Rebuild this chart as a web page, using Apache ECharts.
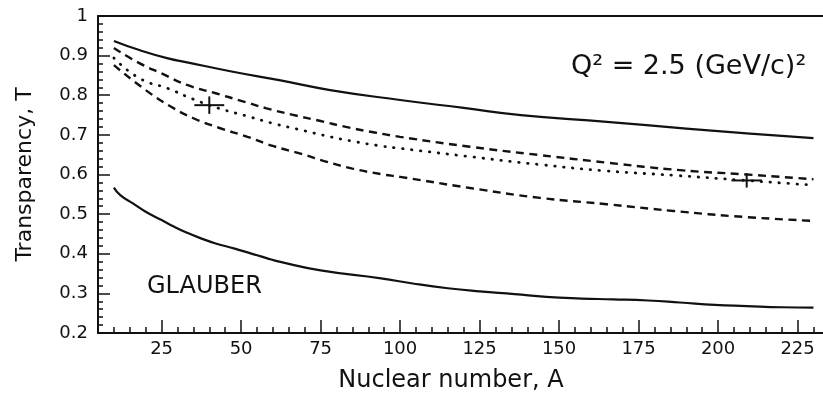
<!DOCTYPE html>
<html>
<head>
<meta charset="utf-8">
<title>Nuclear transparency vs A</title>
<script src="https://cdn.jsdelivr.net/npm/echarts@6/dist/echarts.min.js"></script>
<style>
  html, body { margin: 0; padding: 0; background: #fff; }
  #chart { width: 823px; height: 396px; }
</style>
</head>
<body>
<div id="chart"></div>
<script>
// Transparency T versus nuclear number A at Q^2 = 2.5 (GeV/c)^2

// Upper solid curve
const topSolidA = [10, 18, 27, 33, 47, 62, 78, 100, 120, 138, 165, 190, 210, 230];
const topSolidT = [0.937, 0.914, 0.893, 0.883, 0.860, 0.838, 0.813, 0.788, 0.768, 0.750, 0.733, 0.716, 0.703, 0.692];

// Upper dashed curve
const upperDashA = [10, 18, 25, 33, 42, 50, 58, 66, 75, 83, 92, 100, 122, 144, 165, 188, 209, 230];
const upperDashT = [0.919, 0.881, 0.855, 0.826, 0.805, 0.786, 0.767, 0.751, 0.735, 0.720, 0.706, 0.695, 0.670, 0.649, 0.630, 0.611, 0.600, 0.588];

// Dotted curve
const dottedA = [10, 18, 27, 35, 43, 52, 60, 69, 77, 85, 94, 100, 122, 144, 165, 186, 207, 230];
const dottedT = [0.894, 0.843, 0.817, 0.790, 0.767, 0.747, 0.729, 0.712, 0.697, 0.684, 0.672, 0.666, 0.645, 0.625, 0.609, 0.598, 0.586, 0.573];

// Lower dashed curve
const lowerDashA = [10, 20, 28, 35, 43, 52, 60, 69, 77, 85, 94, 100, 122, 144, 165, 186, 208, 230];
const lowerDashT = [0.876, 0.813, 0.771, 0.742, 0.718, 0.695, 0.672, 0.652, 0.632, 0.615, 0.601, 0.594, 0.566, 0.541, 0.525, 0.508, 0.493, 0.483];

// Glauber calculation
const glauberA = [10, 12, 16, 20, 25, 29, 33, 37, 42, 48, 53, 58, 62, 75, 94, 104, 115, 125, 136, 146, 157, 167, 178, 188, 199, 209, 220, 230];
const glauberT = [0.567, 0.548, 0.527, 0.506, 0.485, 0.468, 0.453, 0.440, 0.426, 0.413, 0.401, 0.389, 0.380, 0.358, 0.338, 0.325, 0.313, 0.305, 0.298, 0.291, 0.287, 0.285, 0.282, 0.277, 0.271, 0.268, 0.265, 0.264];

// Measured points with error bars
const pointA = [40, 209];
const pointT = [0.775, 0.585];
const pointErrA = [4.7, 4.8];
const pointErrT = [0.022, 0.018];

// Axis ticks and labels
const xLabelTicks = [25, 50, 75, 100, 125, 150, 175, 200, 225];
const xMinorTicks = [10, 15, 20, 25, 30, 35, 40, 45, 50, 55, 60, 65, 70, 75, 80, 85, 90, 95, 100,
  105, 110, 115, 120, 125, 130, 135, 140, 145, 150, 155, 160, 165, 170, 175, 180, 185, 190, 195, 200,
  205, 210, 215, 220, 225, 230];
const yMinorTicks = [0.22, 0.24, 0.26, 0.28, 0.32, 0.34, 0.36, 0.38, 0.42, 0.44, 0.46, 0.48,
  0.52, 0.54, 0.56, 0.58, 0.62, 0.64, 0.66, 0.68, 0.72, 0.74, 0.76, 0.78,
  0.82, 0.84, 0.86, 0.88, 0.92, 0.94, 0.96, 0.98];
const yMin = 0.2, yMax = 1, yStep = 0.1;
const xMin = 5, xMax = 233;

const INK = '#111';
const FONT = 'DejaVu Sans';

function pairs(xs, ys) { return xs.map((x, i) => [x, ys[i]]); }

function curve(name, xs, ys, lineType, width, cap) {
  return {
    name, type: 'line', data: pairs(xs, ys),
    showSymbol: false, symbol: 'none',
    smooth: 0.5,
    lineStyle: { color: INK, width: width, type: lineType, cap: cap || 'butt' },
    z: 3, silent: true
  };
}

const chart = echarts.init(document.getElementById('chart'), null, { renderer: 'canvas' });

chart.setOption({
  animation: false,
  backgroundColor: '#fff',
  grid: { left: 98, right: 0, top: 16, bottom: 63, containLabel: false, outerBoundsMode: 'none' },
  xAxis: [
    {
      type: 'value', min: xMin, max: xMax, position: 'bottom',
      axisLine: { show: true, lineStyle: { color: INK, width: 2 } },
      axisTick: { show: true, inside: true, length: 6, customValues: xMinorTicks, lineStyle: { color: INK, width: 1.5 } },
      axisLabel: { customValues: xLabelTicks, fontSize: 18, fontFamily: FONT, color: INK, margin: 7 },
      splitLine: { show: false },
      name: 'Nuclear number, A', nameLocation: 'middle', nameGap: 36,
      nameTextStyle: { fontSize: 24, fontFamily: FONT, color: INK, padding: [0, 19, 0, 0] }
    },
    {
      type: 'value', min: xMin, max: xMax, position: 'bottom',
      axisLine: { show: false },
      axisTick: { show: true, inside: true, length: 13, customValues: xLabelTicks, lineStyle: { color: INK, width: 1.5 } },
      axisLabel: { show: false },
      splitLine: { show: false }
    },
    {
      type: 'value', min: xMin, max: xMax, position: 'top',
      axisLine: { show: true, lineStyle: { color: INK, width: 2 } },
      axisTick: { show: false }, axisLabel: { show: false }, splitLine: { show: false }
    }
  ],
  yAxis: [
    {
      type: 'value', min: yMin, max: yMax, interval: yStep,
      axisLine: { show: true, lineStyle: { color: INK, width: 2 } },
      axisTick: { show: true, inside: true, length: 12, lineStyle: { color: INK, width: 1.5 } },
      axisLabel: { fontSize: 18, fontFamily: FONT, color: INK, margin: 10, showMinLabel: true, showMaxLabel: true,
        formatter: v => String(Math.round(v * 10) / 10) },
      splitLine: { show: false },
      name: 'Transparency, T', nameLocation: 'middle', nameGap: 62,
      nameTextStyle: { fontSize: 22, fontFamily: FONT, color: INK }
    },
    {
      type: 'value', min: yMin, max: yMax, position: 'left',
      axisLine: { show: false },
      axisTick: { show: true, inside: true, length: 5, customValues: yMinorTicks, lineStyle: { color: INK, width: 1.5 } },
      axisLabel: { show: false },
      splitLine: { show: false }
    }
  ],
  graphic: [
    { type: 'text', left: 571, top: 53,
      style: { text: 'Q² = 2.5 (GeV/c)²', fontSize: 27, fontFamily: FONT, fill: INK } },
    { type: 'text', left: 147, top: 275,
      style: { text: 'GLAUBER', fontSize: 24, fontFamily: FONT, fill: INK } }
  ],
  series: [
    curve('upper', topSolidA, topSolidT, 'solid', 2.2),
    curve('dash-upper', upperDashA, upperDashT, [8, 5.5], 2.4),
    curve('dotted', dottedA, dottedT, [0.5, 8.5], 2.8, 'round'),
    curve('dash-lower', lowerDashA, lowerDashT, [8, 5.5], 2.4),
    curve('Glauber', glauberA, glauberT, 'solid', 2.2),
    {
      name: 'data', type: 'custom', silent: true, z: 4,
      data: pointA.map((a, i) => [a, pointT[i], pointErrA[i], pointErrT[i]]),
      encode: { x: 0, y: 1 },
      renderItem: function (params, api) {
        const a = api.value(0), t = api.value(1), ea = api.value(2), et = api.value(3);
        const l = api.coord([a - ea, t]), r = api.coord([a + ea, t]);
        const b = api.coord([a, t - et]), u = api.coord([a, t + et]);
        const st = { stroke: INK, lineWidth: 2 };
        return {
          type: 'group', children: [
            { type: 'line', shape: { x1: l[0], y1: l[1], x2: r[0], y2: r[1] }, style: st },
            { type: 'line', shape: { x1: b[0], y1: b[1], x2: u[0], y2: u[1] }, style: st }
          ]
        };
      }
    }
  ]
});
</script>
</body>
</html>
